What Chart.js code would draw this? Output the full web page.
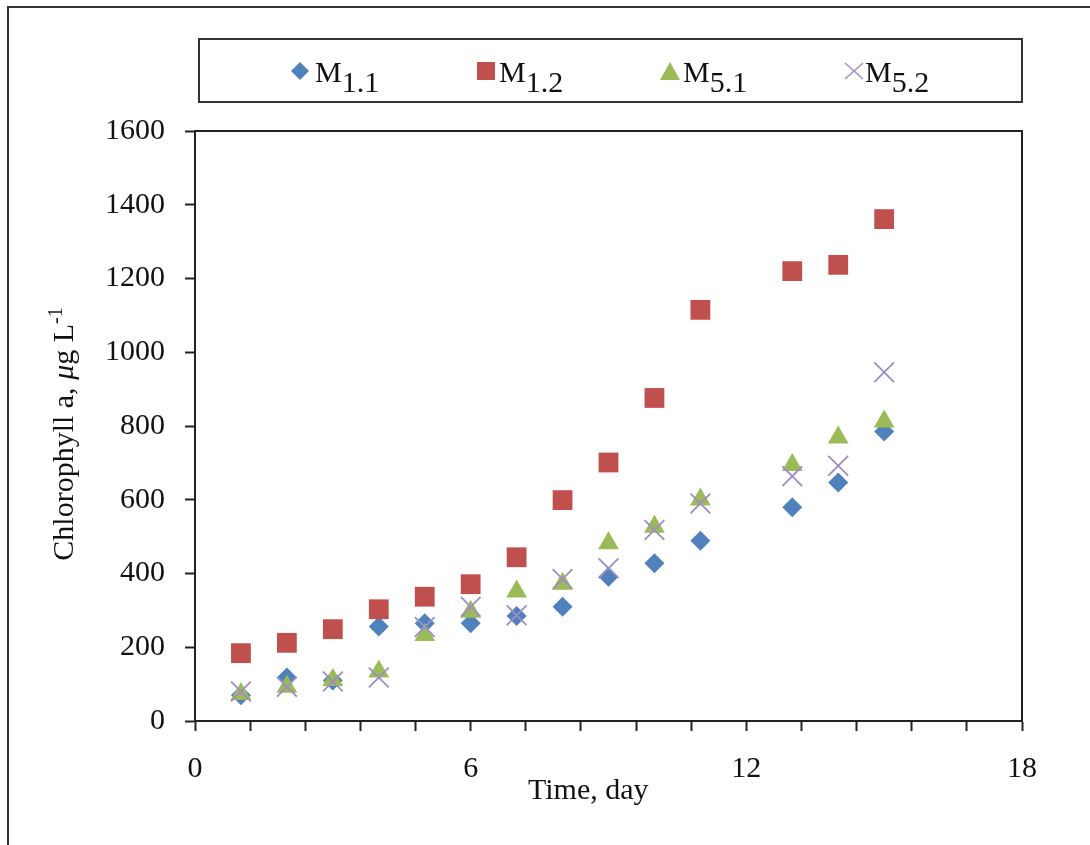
<!DOCTYPE html>
<html>
<head>
<meta charset="utf-8">
<script src="https://cdn.jsdelivr.net/npm/chart.js@4"></script>
<style>
  html, body { margin: 0; padding: 0; background: #fff; }
  #wrap { position: relative; width: 1090px; height: 845px; overflow: hidden; background: #fff; font-family: "Liberation Serif", "Times New Roman", serif; color: #111; }
  #frame { position: absolute; left: 7px; top: 6px; width: 1200px; height: 1000px; border-left: 2px solid #333; border-top: 2px solid #333; }
  #legend { position: absolute; left: 198px; top: 38px; width: 821px; height: 61px; border: 2px solid #333; }
  .lt { position: absolute; font-size: 30px; line-height: 30px; white-space: nowrap; }
  .sub { position: relative; top: 10px; }
  #ytitle { position: absolute; left: 64px; top: 434px; transform: translate(-50%, -50%) rotate(-90deg); font-size: 30px; line-height: 30px; white-space: nowrap; }
  #ytitle .sup { position: relative; top: -11px; font-size: 20px; }
  #xtitle { position: absolute; left: 528px; top: 774px; font-size: 30px; line-height: 30px; white-space: nowrap; }
  canvas { position: absolute; left: 0; top: 0; }
</style>
</head>
<body>
<div id="wrap">
  <canvas id="c" width="1090" height="845"></canvas>
  <div id="frame"></div>
  <div id="legend"></div>
  <div id="ytitle"></div>
  <div id="xtitle"></div>
</div>
<script>
// ---- data ----
const days = [1, 2, 3, 4, 5, 6, 7, 8, 9, 10, 11, 13, 14, 15];
const seriesNames = ['1.1', '1.2', '5.1', '5.2'];
const m11 = [70, 118, 110, 256, 265, 265, 285, 310, 391, 428, 489, 580, 647, 785];
const m12 = [184, 212, 249, 303, 337, 371, 444, 599, 701, 876, 1115, 1220, 1237, 1361];
const m51 = [73, 93, 111, 134, 233, 296, 351, 372, 482, 527, 601, 694, 769, 812];
const m52 = [80, 93, 107, 118, 255, 310, 287, 385, 414, 518, 590, 664, 692, 946];
const xMajorTicks = [0, 6, 12, 18];
const yTickLabels = ['0', '200', '400', '600', '800', '1000', '1200', '1400', '1600'];
const xTitle = 'Time, day';
const yTitleMain = 'Chlorophyll a, ';
const yTitleUnit = 'g L';
const yTitleExp = '-1';

const colors = ['#4F81BD', '#C0504D', '#9BBB59', '#9F8CC6'];

function pts(vals) { return days.map((d, i) => ({ x: d, y: vals[i] })); }

// ---- legend (HTML, with subscripts) ----
const legendPos = [
  { mx: 299.5, tx: 315 },
  { mx: 486, tx: 499 },
  { mx: 670, tx: 683 },
  { mx: 854, tx: 865 }
];
const markerSvg = [
  '<svg width="20" height="20" viewBox="0 0 20 20"><polygon points="10,1 19,10 10,19 1,10" fill="#4F81BD"/></svg>',
  '<svg width="20" height="20" viewBox="0 0 20 20"><rect x="1" y="1" width="18" height="18" fill="#C0504D"/></svg>',
  '<svg width="20" height="20" viewBox="0 0 20 20"><polygon points="10,1 20,19 0,19" fill="#9BBB59"/></svg>',
  '<svg width="20" height="20" viewBox="0 0 20 20"><line x1="1" y1="2" x2="19" y2="18" stroke="#A592CA" stroke-width="1.6"/><line x1="19" y1="2" x2="1" y2="18" stroke="#A592CA" stroke-width="1.6"/></svg>'
];
const legendEl = document.getElementById('legend');
seriesNames.forEach((s, i) => {
  const p = legendPos[i];
  const lx = 200;
  const m = document.createElement('div');
  m.innerHTML = markerSvg[i];
  m.style.position = 'absolute';
  m.style.left = (p.mx - 10 - lx) + 'px';
  m.style.top = (71 - 10 - 40) + 'px';
  m.style.width = '20px'; m.style.height = '20px';
  legendEl.appendChild(m);
  const t = document.createElement('div');
  t.className = 'lt';
  t.style.left = (p.tx - lx) + 'px';
  t.style.top = (57 - 40) + 'px';
  t.innerHTML = 'M<span class="sub">' + s + '</span>';
  legendEl.appendChild(t);
});

document.getElementById('ytitle').innerHTML = yTitleMain + '<i>μ</i>' + yTitleUnit + '<span class="sup">' + yTitleExp + '</span>';
document.getElementById('xtitle').textContent = xTitle;

// ---- chart ----
const boxPlugin = {
  id: 'box',
  beforeDatasetsDraw(chart) {
    const { ctx, chartArea: a } = chart;
    ctx.save();
    ctx.strokeStyle = '#222';
    ctx.lineWidth = 2;
    ctx.beginPath();
    ctx.moveTo(a.left, a.top);
    ctx.lineTo(a.right, a.top);
    ctx.lineTo(a.right, a.bottom);
    ctx.stroke();
    ctx.restore();
  }
};

const tickFont = { family: 'Liberation Serif', size: 30 };

new Chart(document.getElementById('c'), {
  type: 'scatter',
  data: {
    datasets: [
      { label: 'M1.1', data: pts(m11), pointStyle: 'rectRot', pointRadius: 10, pointHoverRadius: 10,
        backgroundColor: colors[0], borderColor: colors[0], borderWidth: 0, order: 4 },
      { label: 'M1.2', data: pts(m12), pointStyle: 'rect', pointRadius: 14, pointHoverRadius: 14,
        backgroundColor: colors[1], borderColor: colors[1], borderWidth: 0, order: 3 },
      { label: 'M5.1', data: pts(m51), pointStyle: 'triangle', pointRadius: 12, pointHoverRadius: 12,
        backgroundColor: colors[2], borderColor: colors[2], borderWidth: 0, order: 2 },
      { label: 'M5.2', data: pts(m52), pointStyle: 'crossRot', pointRadius: 14, pointHoverRadius: 14,
        backgroundColor: colors[3], borderColor: colors[3], borderWidth: 1.8, order: 1 }
    ]
  },
  options: {
    responsive: false,
    animation: false,
    devicePixelRatio: 1,
    layout: { padding: { left: 0, top: 131, right: 68, bottom: 0 } },
    plugins: { legend: { display: false }, tooltip: { enabled: false } },
    scales: {
      x: {
        type: 'linear', min: 0, max: 18,
        afterFit(s) { s.height = 124; },
        border: { display: true, color: '#222', width: 2 },
        grid: { display: true, drawOnChartArea: false, drawTicks: true, tickLength: 10, tickColor: '#222', tickWidth: 2 },
        ticks: {
          stepSize: 1.2, autoSkip: false, maxRotation: 0, padding: 20,
          color: '#111', font: tickFont,
          callback(v) {
            const k = xMajorTicks.find(t => Math.abs(t - v) < 1e-6);
            return k === undefined ? '' : String(k);
          }
        }
      },
      y: {
        type: 'linear', min: 0, max: 1600,
        afterFit(s) { s.width = 195; },
        border: { display: true, color: '#222', width: 2 },
        grid: { display: true, drawOnChartArea: false, drawTicks: true, tickLength: 10, tickColor: '#222', tickWidth: 2 },
        ticks: {
          stepSize: 200, padding: 20, color: '#111', font: tickFont,
          callback(v) { const i = Math.round(v / 200); return yTickLabels[i] !== undefined ? yTickLabels[i] : ''; }
        }
      }
    }
  },
  plugins: [boxPlugin]
});
</script>
</body>
</html>
